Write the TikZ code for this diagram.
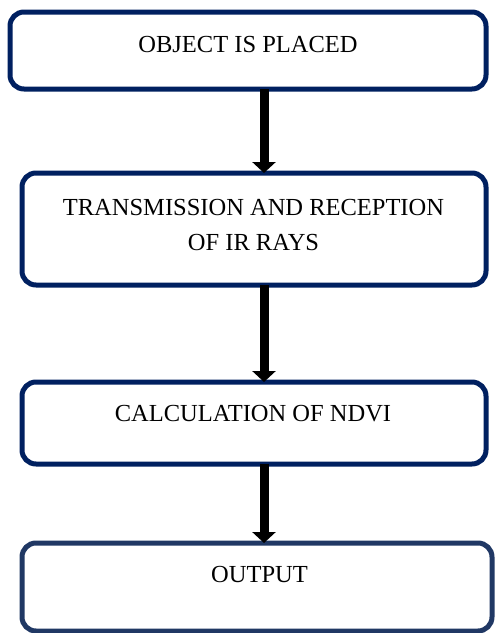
\documentclass[tikz,border=0pt]{standalone}
\usepackage{fontspec}
\setmainfont{Liberation Serif}
\usetikzlibrary{arrows.meta}
\definecolor{navy}{HTML}{002060}
\definecolor{navytwo}{HTML}{203864}
\tikzset{
  box/.style={draw=navy, line width=5pt, rounded corners=14pt, rectangle, outer sep=0pt, inner sep=0pt, fill=white},
  lbl/.style={font=\fontsize{24.5}{35}\selectfont, inner sep=0pt, align=center, text=black},
  flow/.style={line width=9pt, black, -{Triangle[width=23pt,length=11pt]}}
}
\begin{document}
\begin{tikzpicture}[x=1pt,y=-1pt]
\useasboundingbox (0,0) rectangle (496,633);
\node[box, minimum width=476pt, minimum height=77pt] (b1) at (248,50.5) {};
\node[box, minimum width=464pt, minimum height=112pt] (b2) at (254,229) {};
\node[box, minimum width=464pt, minimum height=82pt] (b3) at (254,423) {};
\node[box, draw=navytwo, minimum width=470pt, minimum height=88pt] (b4) at (257,587) {};
\node[lbl, anchor=base] (t1) at (248,52) {OBJECT IS PLACED};
\node[lbl, anchor=center] (t2) at (253.5,225) {TRANSMISSION AND RECEPTION\\OF IR RAYS};
\node[lbl, anchor=base] (t3) at (253,421.5) {CALCULATION OF NDVI};
\node[lbl, anchor=base] (t4) at (259.5,582) {OUTPUT};
\draw[flow] ([xshift=16pt]b1.south) -- ([xshift=10pt]b2.north);
\draw[flow] ([xshift=10pt]b2.south) -- ([xshift=10pt]b3.north);
\draw[flow] ([xshift=10pt]b3.south) -- ([xshift=7pt]b4.north);
\end{tikzpicture}
\end{document}
